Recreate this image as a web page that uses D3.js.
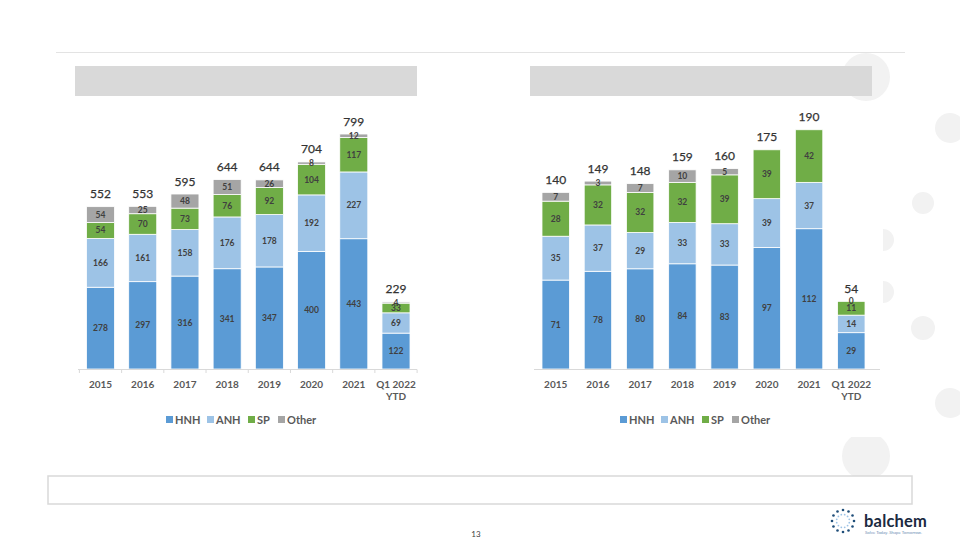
<!DOCTYPE html>
<html>
<head>
<meta charset="utf-8">
<script src="https://cdn.jsdelivr.net/npm/d3@7"></script>
<style>
  html, body { margin: 0; padding: 0; background: #fff; }
  svg { display: block; font-family: Lato, "Open Sans", "DejaVu Sans", sans-serif; }
</style>
</head>
<body>
<svg id="chart" width="960" height="540"></svg>
<script>
// ---------------- DATA ----------------
const categories = ["2015", "2016", "2017", "2018", "2019", "2020", "2021", "Q1 2022 YTD"];
const seriesNames = ["HNH", "ANH", "SP", "Other"];

// Left chart
const leftHNH   = [278, 297, 316, 341, 347, 400, 443, 122];
const leftANH   = [166, 161, 158, 176, 178, 192, 227, 69];
const leftSP    = [54, 70, 73, 76, 92, 104, 117, 33];
const leftOther = [54, 25, 48, 51, 26, 8, 12, 4];
const leftTotals = [552, 553, 595, 644, 644, 704, 799, 229];

// Right chart (null = no label shown)
const rightHNH   = [71, 78, 80, 84, 83, 97, 112, 29];
const rightANH   = [35, 37, 29, 33, 33, 39, 37, 14];
const rightSP    = [28, 32, 32, 32, 39, 39, 42, 11];
const rightOther = [7, 3, 7, 10, 5, null, null, 0];
const rightTotals = [140, 149, 148, 159, 160, 175, 190, 54];

const colors = {HNH: "#5B9BD5", ANH: "#9DC3E6", SP: "#70AD47", Other: "#A5A5A5"};

// ---------------- PAGE DECORATION ----------------
const svg = d3.select("#chart");

// decorative circles on the right edge
const circles = [
  {cx: 866, cy: 77, r: 24}, {cx: 950, cy: 128, r: 15}, {cx: 923, cy: 203, r: 11},
  {cx: 883, cy: 240, r: 11}, {cx: 883, cy: 292, r: 11}, {cx: 923, cy: 328, r: 12},
  {cx: 950, cy: 403, r: 15}, {cx: 866, cy: 456, r: 24}
];
svg.selectAll("circle.deco").data(circles).join("circle")
  .attr("class", "deco").attr("cx", d => d.cx).attr("cy", d => d.cy).attr("r", d => d.r)
  .attr("fill", "#f2f2f2");
// white chart area covering part of the circles
svg.append("rect").attr("x", 520).attr("y", 102).attr("width", 363).attr("height", 335).attr("fill", "#fff");

// top rule
svg.append("line").attr("x1", 56).attr("x2", 905).attr("y1", 52.5).attr("y2", 52.5)
  .attr("stroke", "#e3e3e3").attr("stroke-width", 1.2);

// title boxes
svg.append("rect").attr("x", 75).attr("y", 66).attr("width", 342).attr("height", 30).attr("fill", "#d9d9d9");
svg.append("rect").attr("x", 530).attr("y", 66).attr("width", 342).attr("height", 30).attr("fill", "#d9d9d9");

// bottom box
svg.append("rect").attr("x", 48).attr("y", 476).attr("width", 864).attr("height", 28)
  .attr("fill", "#fff").attr("stroke", "#d9d9d9").attr("stroke-width", 1.5);

// page number
svg.append("text").attr("x", 476).attr("y", 537).attr("text-anchor", "middle")
  .attr("font-size", 8).attr("fill", "#404040").text("13");

// ---------------- CHART FUNCTION ----------------
function drawChart(cfg) {
  const rows = categories.map((c, i) => ({
    cat: c, HNH: cfg.hnh[i], ANH: cfg.anh[i], SP: cfg.sp[i], Other: cfg.other[i] || 0,
    OtherLabel: cfg.other[i], total: cfg.totals[i]
  }));
  const stacked = d3.stack().keys(seriesNames)(rows);

  const x = d3.scaleBand().domain(categories).range(cfg.xRange)
    .paddingInner(cfg.pad).paddingOuter(cfg.pad / 2);
  const y = d3.scaleLinear().domain([0, cfg.yMax]).range([cfg.base, cfg.base - cfg.yMax * cfg.k]);

  const g = svg.append("g");

  // bars
  g.selectAll("g.series").data(stacked).join("g")
    .attr("fill", d => colors[d.key])
    .selectAll("rect").data(d => d).join("rect")
    .attr("x", d => x(d.data.cat))
    .attr("width", x.bandwidth())
    .attr("y", d => y(d[1]))
    .attr("height", d => Math.max(0, y(d[0]) - y(d[1])))
    .attr("stroke", "#fff").attr("stroke-width", 0.8);

  // segment labels
  stacked.forEach(s => {
    g.selectAll(null).data(s.filter(d => {
        const v = s.key === "Other" ? d.data.OtherLabel : d.data[s.key];
        return v !== null && v !== undefined;
      })).join("text")
      .attr("x", d => x(d.data.cat) + x.bandwidth() / 2)
      .attr("y", d => (y(d[0]) + y(d[1])) / 2 + 3)
      .attr("text-anchor", "middle")
      .attr("font-size", 8.5).attr("font-weight", 700).attr("fill", "#404040")
      .text(d => s.key === "Other" ? d.data.OtherLabel : d.data[s.key]);
  });

  // totals
  g.selectAll("text.total").data(rows).join("text").attr("class", "total")
    .attr("x", d => x(d.cat) + x.bandwidth() / 2)
    .attr("y", d => y(d.HNH + d.ANH + d.SP + d.Other) - 8.5)
    .attr("text-anchor", "middle")
    .attr("font-size", 12).attr("font-weight", 400).attr("fill", "#333333")
    .style("paint-order", "stroke").attr("stroke", "#333333").attr("stroke-width", 0.25)
    .text(d => d.total);

  // axis
  const axis = d3.axisBottom(x).tickSize(0).tickFormat("");
  const ag = g.append("g").attr("transform", `translate(0,${cfg.base + 0.5})`).call(axis);
  ag.select(".domain").attr("stroke", "#d9d9d9").attr("stroke-width", 1.2)
    .attr("d", `M${cfg.axisX[0]},0H${cfg.axisX[1]}`);
  if (cfg.ticks) {
    const step = x.step();
    const bounds = d3.range(categories.length + 1).map(i => cfg.xRange[0] + i * step);
    ag.selectAll("line.sep").data(bounds).join("line").attr("class", "sep")
      .attr("x1", d => d).attr("x2", d => d).attr("y1", 0).attr("y2", 3.5)
      .attr("stroke", "#d9d9d9").attr("stroke-width", 1);
  }
  // category labels (two lines where needed)
  const lbl = g.selectAll("text.cat").data(categories).join("text").attr("class", "cat")
    .attr("text-anchor", "middle").attr("font-size", 10).attr("font-weight", 700).attr("fill", "#595959");
  lbl.each(function(c) {
    const t = d3.select(this);
    const parts = c === "Q1 2022 YTD" ? ["Q1 2022", "YTD"] : [c];
    parts.forEach((p, i) => {
      t.append("tspan").attr("x", x(c) + x.bandwidth() / 2).attr("y", cfg.base + 18.5 + i * 12.5).text(p);
    });
  });

  // legend
  const lg = g.append("g").attr("transform", `translate(${cfg.legendX},${cfg.base + 51})`);
  let off = 0;
  const widths = {HNH: 41, ANH: 41, SP: 30, Other: 40};
  seriesNames.forEach(n => {
    lg.append("rect").attr("x", off).attr("y", -4).attr("width", 7).attr("height", 7).attr("fill", colors[n]);
    lg.append("text").attr("x", off + 9).attr("y", 3.5).attr("font-size", 11).attr("font-weight", 700)
      .attr("fill", "#595959").text(n);
    off += widths[n];
  });
}

drawChart({
  hnh: leftHNH, anh: leftANH, sp: leftSP, other: leftOther, totals: leftTotals,
  xRange: [79.4, 417.1], pad: 0.336, base: 369, yMax: 900, k: 0.2941,
  axisX: [78, 417], ticks: true, legendX: 166
});
drawChart({
  hnh: rightHNH, anh: rightANH, sp: rightSP, other: rightOther, totals: rightTotals,
  xRange: [534.6, 872.4], pad: 0.35, base: 369, yMax: 200, k: 1.2526,
  axisX: [534, 880], ticks: false, legendX: 620
});

// ---------------- LOGO ----------------
const logo = svg.append("g").attr("transform", "translate(843,521)");
const ringOuter = d3.range(12).map(i => ({a: i * Math.PI / 6, r: 11, s: 1.3, c: "#1f4e79"}));
const ringInner = d3.range(12).map(i => ({a: i * Math.PI / 6 + Math.PI / 12, r: 6.5, s: 0.9, c: "#9dc3e6"}));
logo.selectAll("circle").data(ringOuter.concat(ringInner)).join("circle")
  .attr("cx", d => Math.cos(d.a) * d.r).attr("cy", d => Math.sin(d.a) * d.r)
  .attr("r", d => d.s).attr("fill", d => d.c);
svg.append("text").attr("x", 864).attr("y", 527).attr("font-size", 16.5).attr("font-weight", 700)
  .attr("fill", "#1b2a3f").attr("letter-spacing", 0.2).text("balchem");
svg.append("text").attr("x", 865).attr("y", 534).attr("font-size", 4.3)
  .attr("fill", "#6f8fb5").text("Solve Today. Shape Tomorrow.");
</script>
</body>
</html>
